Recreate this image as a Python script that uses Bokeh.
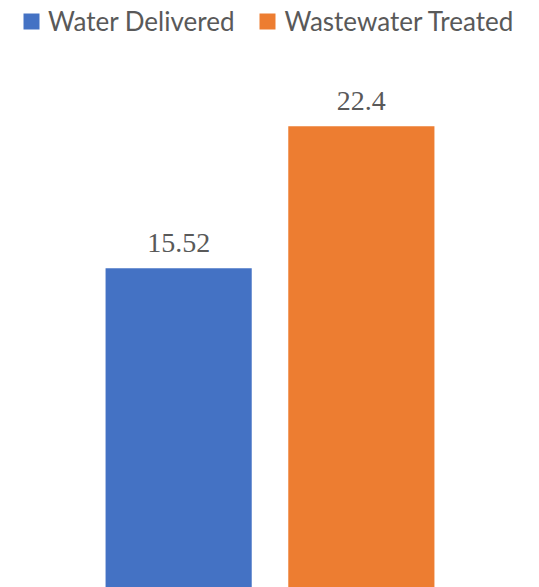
from bokeh.plotting import figure
from bokeh.models import ColumnDataSource, LabelSet, Legend, LegendItem, Range1d, FactorRange
from bokeh.embed import file_html
from bokeh.resources import INLINE

categories = ["Water Delivered", "Wastewater Treated"]
values = [15.52, 22.4]
value_labels = ["15.52", "22.4"]
colors = ["#4472C4", "#ED7D31"]

FONT = "Lato"
TEXT = "#595959"

src = ColumnDataSource(dict(cat=categories, val=values, lab=value_labels, col=colors))

p = figure(width=539, height=587, output_backend="svg", toolbar_location=None,
           x_range=FactorRange(*categories, range_padding=0.475, range_padding_units="absolute"),
           y_range=Range1d(0.05, 28.49),
           min_border=0, min_border_left=0, min_border_right=0, min_border_top=0, min_border_bottom=0)
p.outline_line_color = None
p.axis.visible = False
p.grid.visible = False
p.background_fill_color = "white"
p.border_fill_color = "white"

r = p.vbar(x="cat", top="val", width=0.8, bottom=0, color="col", source=src, line_color=None)

labels = LabelSet(x="cat", y="val", text="lab", source=src, text_align="center",
                  text_baseline="bottom", y_offset=16, text_color=TEXT,
                  text_font=FONT, text_font_size="28px")
p.add_layout(labels)

legend = Legend(items=[LegendItem(label=categories[0], renderers=[r], index=0),
                       LegendItem(label=categories[1], renderers=[r], index=1)],
                location=(21, 550), orientation="horizontal",
                border_line_color=None, background_fill_alpha=0,
                glyph_width=20, glyph_height=20, label_standoff=7, spacing=23,
                padding=0, margin=0,
                label_text_font=FONT, label_text_font_size="26px", label_text_color=TEXT)
p.add_layout(legend)

open("out.html", "w").write(file_html(p, INLINE))
